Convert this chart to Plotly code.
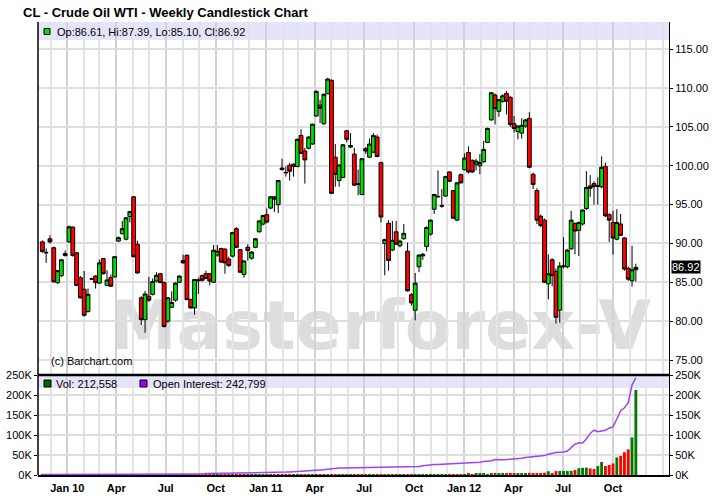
import plotly.graph_objects as go
import pandas as pd

# ---------------- data ----------------
first_week = "2009-11-16"

opens = [
    90.2, 88.85, 90.6, 89.45, 84.95, 85.85, 88.45, 90.2, 92.1, 88.8,
    85.6, 84.1, 81.25, 85.4, 85.8, 84.9, 88.05, 84.6, 85.6, 85.7,
    90.3, 91.25, 90.55, 93.45, 96.0, 89.9, 83.0, 80.2, 83.2, 83.45,
    85.17, 86.1, 84.96, 80.0, 81.8, 82.7, 85.0, 87.8, 88.48, 82.77,
    81.7, 85.2, 85.85, 86.1, 86.1, 85.0, 88.5, 89.35, 89.26, 88.0,
    88.36, 91.9, 89.2, 86.0, 89.5, 88.1, 89.5, 91.5, 92.5, 93.7,
    94.55, 96.0, 95.0, 99.7, 99.15, 100.06, 99.9, 99.9, 103.9, 101.9,
    102.25, 102.8, 106.4, 107.8, 105.4, 109.27, 111.0, 101.1, 98.1, 98.5,
    104.5, 102.4, 101.5, 97.7, 96.3, 102.2, 101.1, 101.75, 103.7, 100.4,
    90.0, 92.6, 89.15, 91.5, 89.7, 90.6, 89.0, 83.4, 81.4, 87.0,
    88.4, 89.6, 91.2, 94.4, 96.0, 94.8, 96.1, 99.2, 96.8, 93.0,
    98.85, 99.5, 101.7, 100.7, 100.2, 100.0, 100.5, 103.0, 105.9, 109.1,
    107.0, 108.3, 109.3, 108.8, 105.4, 104.4, 104.2, 105.1, 106.1, 98.9,
    96.8, 93.5, 93.0, 84.8, 87.9, 86.4, 81.4, 87.0, 87.0, 89.3,
    92.55, 91.7, 92.5, 94.5, 97.4, 97.7, 97.35, 97.3, 99.9, 93.7,
    92.7, 90.55, 92.5, 90.7, 86.8, 85.2, 86.61,
]
highs = [
    90.4, 89.35, 91.05, 89.6, 86.6, 88.0, 89.1, 92.3, 92.2, 88.9,
    85.8, 86.45, 84.2, 85.6, 85.9, 87.9, 88.1, 86.55, 86.0, 88.4,
    90.9, 92.9, 93.4, 94.2, 96.1, 90.35, 83.2, 83.9, 85.7, 85.5,
    86.3, 86.2, 85.1, 83.1, 83.84, 85.0, 85.9, 88.56, 88.6, 82.9,
    85.4, 85.6, 86.0, 86.5, 86.2, 89.8, 89.8, 89.45, 89.4, 88.3,
    91.5, 92.1, 89.3, 87.8, 89.9, 89.0, 90.7, 93.0, 93.7, 94.5,
    96.1, 96.1, 98.2, 100.9, 99.9, 100.4, 100.3, 103.5, 104.7, 102.3,
    103.8, 105.4, 109.7, 108.5, 109.3, 111.3, 111.1, 102.8, 100.2, 102.8,
    104.6, 104.2, 102.3, 99.5, 101.0, 102.4, 103.5, 104.2, 104.0, 100.5,
    90.6, 93.0, 92.9, 92.9, 90.5, 92.5, 90.1, 83.6, 86.2, 88.6,
    88.8, 92.2, 93.1, 96.4, 99.4, 97.0, 98.7, 99.3, 96.9, 97.9,
    99.0, 101.6, 102.5, 100.8, 100.9, 101.5, 103.2, 104.9, 109.5, 109.3,
    108.6, 109.2, 109.6, 109.0, 106.4, 105.2, 106.1, 106.0, 106.9, 99.1,
    97.1, 93.7, 93.2, 88.6, 88.1, 86.8, 87.6, 90.8, 89.3, 94.2,
    92.7, 92.8, 94.4, 99.3, 98.8, 98.0, 98.5, 101.2, 100.4, 93.9,
    94.2, 94.4, 93.8, 90.8, 87.0, 89.7, 87.39,
]
lows = [
    88.8, 87.5, 90.0, 85.0, 84.8, 85.7, 88.3, 90.1, 88.3, 84.5,
    82.9, 80.6, 81.1, 85.3, 84.2, 84.8, 86.0, 84.5, 84.4, 85.6,
    90.2, 91.2, 90.4, 92.7, 88.2, 86.1, 79.5, 78.5, 82.5, 83.3,
    85.0, 84.9, 79.2, 79.8, 81.7, 82.5, 84.9, 87.4, 82.7, 81.6,
    80.84, 83.5, 85.1, 85.4, 84.6, 84.9, 88.3, 87.5, 86.1, 87.0,
    88.2, 89.4, 86.2, 85.6, 87.8, 87.9, 89.4, 91.4, 92.3, 92.6,
    94.4, 94.05, 93.9, 99.4, 98.6, 98.1, 98.6, 99.8, 101.5, 97.7,
    102.1, 102.7, 106.3, 105.5, 105.3, 109.2, 96.4, 97.3, 97.3, 98.4,
    103.0, 102.3, 97.4, 96.2, 96.2, 101.5, 101.0, 101.6, 101.1, 92.7,
    85.9, 86.5, 89.0, 89.8, 89.5, 90.5, 83.8, 82.0, 80.1, 86.3,
    87.9, 89.0, 91.0, 93.8, 95.9, 94.6, 96.0, 97.9, 93.2, 92.9,
    97.7, 99.4, 99.0, 99.1, 99.4, 98.9, 100.4, 102.9, 105.8, 105.3,
    106.3, 108.1, 106.6, 105.0, 104.3, 103.4, 103.5, 104.9, 99.7, 97.0,
    92.5, 92.1, 84.9, 82.8, 84.5, 79.7, 79.8, 86.8, 86.8, 89.2,
    88.6, 88.4, 92.3, 94.3, 96.0, 95.0, 95.0, 97.1, 93.4, 90.2,
    88.55, 90.4, 91.0, 86.5, 85.2, 84.45, 85.10,
]
closes = [
    88.95, 88.8, 90.2, 85.05, 86.5, 87.9, 88.7, 92.15, 88.45, 84.6,
    83.0, 80.75, 83.45, 85.45, 84.95, 87.5, 86.1, 85.3, 84.5, 88.3,
    90.75, 91.9, 93.3, 94.1, 88.3, 86.2, 80.2, 83.5, 82.7, 85.1,
    85.9, 84.96, 79.3, 83.0, 82.4, 84.9, 85.8, 87.5, 82.77, 81.7,
    85.35, 85.3, 85.26, 85.5, 85.17, 89.13, 89.0, 87.6, 87.5, 87.15,
    91.4, 89.5, 86.3, 87.75, 89.1, 88.9, 90.6, 92.9, 93.6, 92.75,
    96.0, 95.7, 98.1, 99.5, 99.1, 99.3, 100.2, 103.4, 101.6, 100.75,
    103.7, 105.35, 109.57, 107.4, 109.2, 111.16, 96.45, 98.9, 100.1, 102.7,
    103.4, 102.6, 97.5, 97.6, 100.9, 101.9, 102.8, 103.9, 101.2, 93.4,
    90.5, 87.8, 90.4, 89.9, 90.3, 91.3, 83.9, 82.35, 84.9, 88.5,
    88.6, 92.05, 93.0, 96.3, 96.05, 94.85, 98.6, 98.0, 93.25, 97.8,
    97.8, 101.0, 99.2, 99.2, 100.6, 100.4, 102.1, 104.8, 109.4, 107.35,
    108.5, 109.0, 108.3, 105.3, 104.8, 105.1, 105.2, 105.9, 99.8, 97.6,
    93.0, 92.3, 85.0, 86.1, 85.85, 80.5, 87.1, 87.1, 89.15, 93.0,
    91.6, 92.7, 94.3, 97.2, 97.1, 97.35, 97.4, 99.8, 93.55, 93.0,
    90.7, 92.7, 91.05, 86.7, 85.4, 86.6, 86.92,
]
volume = [
    150, 120, 180, 90, 200, 160, 140, 110, 170, 210,
    130, 190, 150, 160, 120, 180, 140, 200, 170, 130,
    160, 190, 150, 210, 180, 230, 170, 140, 200, 160,
    220, 180, 150, 190, 170, 210, 240, 200, 180, 220,
    260, 230, 250, 280, 240, 270, 300, 260, 290, 250,
    310, 280, 330, 300, 270, 320, 350, 310, 290, 340,
    360, 330, 380, 350, 400, 370, 420, 390, 360, 410,
    450, 420, 480, 440, 410, 470, 500, 460, 520, 490,
    540, 510, 560, 530, 580, 600, 570, 620, 650, 610,
    680, 640, 700, 720, 690, 760, 800, 780, 850, 900,
    1700, 1500, 500, 1800, 1600, 1900, 1500, 1800, 700, 1000,
    900, 2000, 2800, 2200, 2800, 3500, 2800, 2500, 3200, 4000,
    3800, 3500, 4200, 3200, 3800, 4200, 3200, 3000, 5500, 4800,
    5000, 4500, 5800, 9500, 5000, 9800, 10000, 10200, 10000, 10500,
    12500, 17000, 18000, 18500, 16500, 15000, 22500, 32500, 22500, 25000,
    29000, 44000, 47500, 57000, 64000, 94000, 212558,
]
open_interest = [
    1200, 1200, 1300, 1300, 1300, 1400, 1400, 1400, 1500, 1500,
    1500, 1500, 1600, 1600, 1600, 1600, 1700, 1700, 1700, 1700,
    1700, 1800, 1800, 1800, 1800, 1800, 1900, 1900, 1900, 1900,
    1900, 2000, 2000, 2000, 2000, 2000, 2100, 2100, 2100, 2100,
    2200, 2200, 2200, 3500, 3600, 3700, 3800, 3900, 4000, 4100,
    4300, 4400, 4500, 4700, 4800, 5000, 5200, 5400, 5600, 5800,
    6000, 6300, 6600, 6900, 7200, 7600, 8000, 8600, 9300, 10000,
    10800, 11500, 12000, 12300, 13000, 14500, 16000, 17000, 17300, 17600,
    17800, 18000, 18200, 18400, 18500, 18600, 18700, 18800, 18800, 18900,
    19000, 19000, 19100, 19200, 19300, 19500, 19700, 19900, 20200, 21000,
    23000, 24500, 25500, 26000, 26500, 27000, 27500, 28000, 28500, 29000,
    29200, 29400, 29500, 29800, 30500, 32000, 33500, 34500, 35500, 38500,
    37500, 38000, 38500, 39000, 39500, 40000, 42000, 43500, 44500, 45500,
    46500, 47500, 48500, 52000, 55000, 56500, 57000, 57500, 60000, 68000,
    77000, 80000, 80000, 90000, 104000, 112000, 108000, 110000, 112000, 117000,
    121000, 140000, 160000, 168000, 181000, 225000, 242799,
]

tick_dates = ["2010-01-01", "2010-04-01", "2010-07-01", "2010-10-01",
              "2011-01-01", "2011-04-01", "2011-07-01", "2011-10-01",
              "2012-01-01", "2012-04-01", "2012-07-01", "2012-10-01"]
tick_labels = ["Jan 10", "Apr", "Jul", "Oct", "Jan 11", "Apr", "Jul", "Oct",
               "Jan 12", "Apr", "Jul", "Oct"]
price_ticks = [75, 80, 85, 90, 95, 100, 105, 110, 115]
vol_ticks = [0, 50000, 100000, 150000, 200000, 250000]
vol_tick_labels = ["0K", "50K", "100K", "150K", "200K", "250K"]

# ---------------- layout helpers (pixels -> paper) ----------------
W, H = 714, 499
L, R, T, B = 38, 669, 22, 475
PW, PH = R - L, B - T
SEP = 375  # pixel row of the price / volume separator


def px(x):
    return (x - L) / PW


def py(y):
    return (B - y) / PH


vol_top = py(SEP)
GREEN = "#00DD00"
RED = "#FF0000"
FONT = "Liberation Sans"

dates = pd.date_range(first_week, periods=len(closes), freq="7D")
vol_colors = ["#007A00" if c >= o else RED for o, c in zip(opens, closes)]

fig = go.Figure()
fig.add_trace(go.Candlestick(
    x=dates, open=opens, high=highs, low=lows, close=closes,
    increasing=dict(fillcolor=GREEN, line=dict(color="black", width=1)),
    decreasing=dict(fillcolor=RED, line=dict(color="black", width=1)),
    whiskerwidth=0, xaxis="x", yaxis="y", showlegend=False, hoverinfo="skip",
))
fig.add_trace(go.Bar(
    x=dates, y=volume, marker=dict(color=vol_colors, line=dict(width=0)),
    xaxis="x", yaxis="y2", showlegend=False, hoverinfo="skip",
))
fig.add_trace(go.Scatter(
    x=dates, y=open_interest, mode="lines",
    line=dict(color="#A040F8", width=1.5),
    xaxis="x", yaxis="y3", showlegend=False, hoverinfo="skip",
))

grid = "#DEDEDE"
shapes = [
    # legend bands
    dict(type="rect", xref="paper", yref="paper", x0=0, x1=1, y0=py(40), y1=1,
         fillcolor="#E4E4FA", line=dict(width=0), layer="below"),
    dict(type="rect", xref="paper", yref="paper", x0=0, x1=1, y0=py(388), y1=py(SEP),
         fillcolor="#E4E4FA", line=dict(width=0), layer="below"),
    # watermark
    dict(type="rect", xref="paper", yref="paper",
         x0=px(100), x1=px(660), y0=py(350), y1=py(290),
         line=dict(width=0), fillcolor="rgba(0,0,0,0)", layer="below",
         label=dict(text="Masterforex-V", textposition="middle center",
                    font=dict(family="DejaVu Sans", size=68, color="#DDDDDD", weight="bold"))),
    # separator + left border
    dict(type="line", xref="paper", yref="paper", x0=0, x1=1, y0=vol_top, y1=vol_top,
         line=dict(color="black", width=2.5), layer="above"),
    dict(type="line", xref="paper", yref="paper", x0=0, x1=0, y0=0, y1=1,
         line=dict(color="black", width=1.5), layer="above"),
    # legend squares
    dict(type="rect", xref="paper", yref="paper", x0=px(44), x1=px(50), y0=py(34.5), y1=py(28.5),
         fillcolor=GREEN, line=dict(color="black", width=1)),
    dict(type="rect", xref="paper", yref="paper", x0=px(44), x1=px(51), y0=py(387), y1=py(380),
         fillcolor="#006400", line=dict(color="black", width=1)),
    dict(type="rect", xref="paper", yref="paper", x0=px(140), x1=px(147), y0=py(387), y1=py(380),
         fillcolor="#9900FF", line=dict(color="black", width=1)),
]

annotations = [
    dict(text="CL - Crude Oil WTI - Weekly Candlestick Chart", xref="paper", yref="paper",
         x=px(21), y=py(13), xanchor="left", yanchor="middle", showarrow=False,
         font=dict(family=FONT, size=13, color="black", weight="bold")),
    dict(text=f"Op:{opens[-1]:.2f}, Hi:{highs[-1]:.2f}, Lo:{lows[-1]:.2f}, Cl:{closes[-1]:.2f}",
         xref="paper", yref="paper", x=px(55), y=py(32), xanchor="left", yanchor="middle",
         showarrow=False, font=dict(family=FONT, size=11, color="black")),
    dict(text=f"Vol: {volume[-1]:,}", xref="paper", yref="paper", x=px(54), y=py(383.5),
         xanchor="left", yanchor="middle", showarrow=False,
         font=dict(family=FONT, size=11, color="black")),
    dict(text=f"Open Interest: {open_interest[-1]:,}", xref="paper", yref="paper", x=px(151),
         y=py(383.5), xanchor="left", yanchor="middle", showarrow=False,
         font=dict(family=FONT, size=11, color="black")),
    dict(text="(c) Barchart.com", xref="paper", yref="paper", x=px(49), y=py(361),
         xanchor="left", yanchor="middle", showarrow=False,
         font=dict(family=FONT, size=11, color="black")),
    dict(text=f"{closes[-1]:.2f}", xref="paper", yref="y", x=1, y=closes[-1],
         xanchor="left", yanchor="middle", xshift=2, showarrow=False, bgcolor="black",
         borderpad=0, font=dict(family=FONT, size=11, color="white")),
]

fig.update_layout(
    width=W, height=H, autosize=False,
    margin=dict(l=L, r=W - R, t=T, b=H - B, pad=0, autoexpand=False),
    paper_bgcolor="white", plot_bgcolor="rgba(0,0,0,0)",
    showlegend=False, hovermode=False,
    boxgap=0.0, boxgroupgap=0, bargap=0.25,
    font=dict(family=FONT, size=11, color="black"),
    xaxis=dict(
        type="date", range=["2009-11-08", "2013-01-12"], anchor="y2",
        rangeslider=dict(visible=False), automargin=False,
        tickmode="array", tickvals=tick_dates, ticktext=tick_labels,
        tickfont=dict(family=FONT, size=11, color="black", weight="bold"),
        showgrid=True, gridcolor="#D2D2D2", gridwidth=2,
        minor=dict(tickmode="linear", tick0="2009-11-01", dtick="M1",
                   showgrid=True, gridcolor="#E4E4E4", gridwidth=1.5),
        showline=True, linecolor="black", linewidth=1.5,
        ticks="", ticklabelstandoff=2, zeroline=False,
    ),
    yaxis=dict(
        domain=[vol_top, 1], range=[73.07, 118.5], side="right", anchor="x",
        automargin=False,
        tickmode="array", tickvals=price_ticks, tickformat=".2f",
        ticks="outside", ticklen=3, tickcolor="black",
        showline=True, linecolor="black", linewidth=1,
        showgrid=True, gridcolor=grid, gridwidth=2, zeroline=False,
        tickfont=dict(family=FONT, size=11, color="black"),
    ),
    yaxis2=dict(
        domain=[0, vol_top], range=[0, 250000], side="right", anchor="x",
        automargin=False,
        tickmode="array", tickvals=vol_ticks, ticktext=vol_tick_labels,
        ticks="outside", ticklen=3, tickcolor="black",
        showline=True, linecolor="black", linewidth=1,
        showgrid=True, gridcolor=grid, gridwidth=2, zeroline=False,
        tickfont=dict(family=FONT, size=11, color="black"),
    ),
    yaxis3=dict(
        overlaying="y2", side="left", anchor="x", range=[0, 250000],
        automargin=False,
        tickmode="array", tickvals=vol_ticks, ticktext=vol_tick_labels,
        ticks="outside", ticklen=3, tickcolor="black",
        showgrid=False, showline=False, zeroline=False,
        tickfont=dict(family=FONT, size=11, color="black"),
    ),
    shapes=shapes,
    annotations=annotations,
)

fig.write_html(
    "out.html",
    config={"displayModeBar": False},
    post_script="document.body.style.margin='0px';document.body.style.overflow='hidden';",
)
